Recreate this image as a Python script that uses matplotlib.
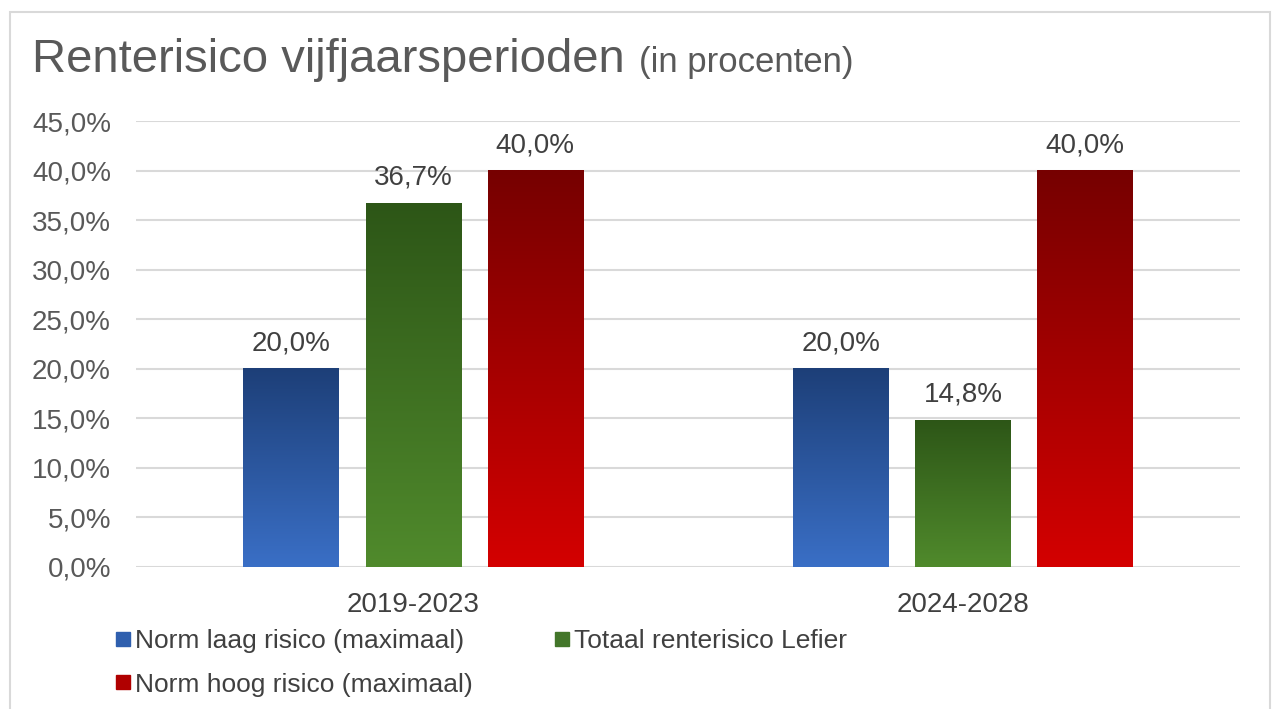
import numpy as np
import matplotlib
matplotlib.use("Agg")
import matplotlib.pyplot as plt
from matplotlib.colors import LinearSegmentedColormap
from matplotlib.patches import Rectangle
from matplotlib.lines import Line2D

plt.rcParams['font.family'] = ['Liberation Sans', 'DejaVu Sans']

periods = ["2019-2023", "2024-2028"]
series = ["Norm laag risico (maximaal)", "Totaal renterisico Lefier", "Norm hoog risico (maximaal)"]
laag = [20.0, 20.0]
lefier = [36.7, 14.8]
hoog = [40.0, 40.0]
values = [laag, lefier, hoog]
yticks = [0, 5, 10, 15, 20, 25, 30, 35, 40, 45]

# (bottom colour, top colour) for the gradients
grad = [("#3a6fc6", "#1d3f78"), ("#508a2c", "#2d5617"), ("#d40000", "#760000")]
legend_col = ["#2f5fae", "#43762a", "#b00000"]

def fmt(v):
    return f"{v:.1f}".replace(".", ",") + "%"

fig = plt.figure(figsize=(12.79, 7.09), dpi=100)
ax = fig.add_axes([0.1063, 0.2003, 0.8632, 0.629])

x = np.arange(len(periods))
width = 0.173
step = 0.222

for i, vals in enumerate(values):
    bars = ax.bar(x + (i - 1) * step, vals, width, color=legend_col[i], zorder=2)
    cmap = LinearSegmentedColormap.from_list("g%d" % i, [grad[i][0], grad[i][1]])
    for b, v in zip(bars, vals):
        x0 = b.get_x()
        g = np.linspace(0, 1, 256).reshape(-1, 1)
        ax.imshow(g, cmap=cmap, origin="lower", aspect="auto",
                  extent=[x0, x0 + b.get_width(), 0, b.get_height()], zorder=3)
        ax.annotate(fmt(v), (x0 + b.get_width() / 2, v), xytext=(0, 9),
                    textcoords="offset points", ha="center", va="bottom",
                    fontsize=20, color="#404040", zorder=4)

ax.set_xlim(-0.504, 1.504)
ax.set_ylim(0, 45)
ax.set_yticks(yticks)
ax.set_yticklabels([fmt(t) for t in yticks], fontsize=20, color="#595959")
ax.set_xticks(x)
ax.set_xticklabels(periods, fontsize=20, color="#404040")
ax.tick_params(axis="y", length=0, pad=18)
ax.tick_params(axis="x", length=0, pad=18)
ax.yaxis.grid(True, color="#d9d9d9", linewidth=1.5, zorder=0)
ax.set_axisbelow(True)
for s in ax.spines.values():
    s.set_visible(False)

# column-wise fill: laag, hoog | lefier
order = [0, 2, 1]
handles = [Line2D([], [], marker="s", linestyle="none", markersize=10,
                  markerfacecolor=legend_col[k], markeredgecolor=legend_col[k]) for k in order]
fig.legend(handles, [series[k] for k in order], loc="upper left",
           bbox_to_anchor=(0.09, 0.113), ncol=2, frameon=False, fontsize=19,
           handletextpad=0.15, columnspacing=3.1, labelspacing=0.75,
           handlelength=0.6, borderpad=0, borderaxespad=0, labelcolor="#404040")

t1 = fig.text(0.025, 1 - 72 / 709, "Renterisico vijfjaarsperioden", fontsize=34,
              color="#595959", va="baseline", ha="left")
fig.canvas.draw()
bb = t1.get_window_extent()
fig.text((bb.x1 + 14) / fig.bbox.width, 1 - 72 / 709, "(in procenten)", fontsize=25,
         color="#595959", va="baseline", ha="left")

fig.patches.append(Rectangle((10 / 1279, -0.02), 1260 / 1279, 1.003, transform=fig.transFigure,
                             fill=False, edgecolor="#d9d9d9", linewidth=1.5))

fig.savefig("out.png", dpi=100)
